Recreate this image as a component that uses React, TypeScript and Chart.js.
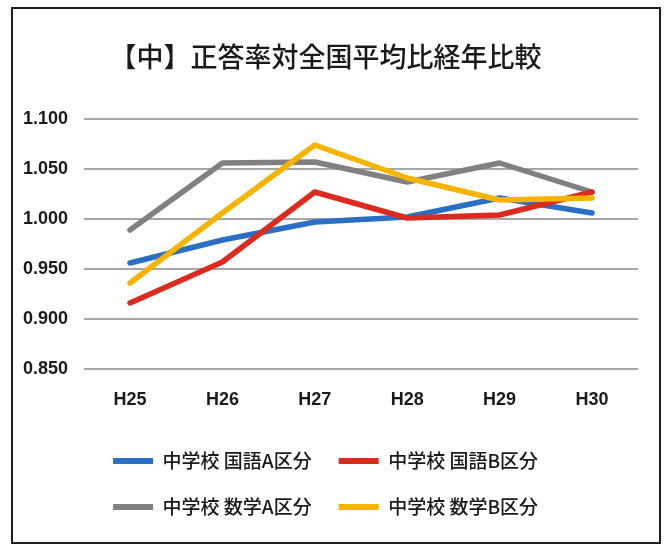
import React, { useEffect, useRef } from "react";
import { Chart, registerables } from "chart.js";

Chart.register(...registerables);

const TITLE = "【中】正答率対全国平均比経年比較";
const YEARS = ["H25", "H26", "H27", "H28", "H29", "H30"];
const SERIES_NAMES = ["中学校 国語A区分", "中学校 国語B区分", "中学校 数学A区分", "中学校 数学B区分"];
const KOKUGO_A = [0.956, 0.979, 0.997, 1.002, 1.021, 1.006];
const KOKUGO_B = [0.916, 0.957, 1.027, 1.001, 1.004, 1.027];
const SUGAKU_A = [0.989, 1.056, 1.057, 1.037, 1.056, 1.027];
const SUGAKU_B = [0.936, 1.006, 1.074, 1.041, 1.019, 1.021];
const Y_MIN = 0.85;
const Y_MAX = 1.1;
const Y_STEP = 0.05;

const COLORS = ["#2b6fc4", "#dc2a1e", "#808080", "#f6b400"];
const ORDERS = [3, 1, 2, 0];

const NUM_FONT = "'Liberation Sans', Arial, sans-serif";
const CJK_FONT = "'Noto Sans CJK JP', 'Noto Sans', sans-serif";

export default function App() {
  const ref = useRef<HTMLCanvasElement | null>(null);

  useEffect(() => {
    if (!ref.current) return;
    const values = [KOKUGO_A, KOKUGO_B, SUGAKU_A, SUGAKU_B];
    const chart = new Chart(ref.current, {
      type: "line",
      data: {
        labels: YEARS,
        datasets: values.map((v, i) => ({
          label: SERIES_NAMES[i],
          data: v,
          borderColor: COLORS[i],
          backgroundColor: COLORS[i],
          borderWidth: 5.5,
          pointRadius: 0,
          pointHoverRadius: 0,
          tension: 0,
          borderJoinStyle: "round" as const,
          borderCapStyle: "round" as const,
          order: ORDERS[i],
        })),
      },
      options: {
        animation: false,
        responsive: true,
        maintainAspectRatio: false,
        layout: { padding: { left: 0, right: 20.8, top: 0, bottom: 15.5 } },
        plugins: {
          title: {
            display: true,
            text: TITLE,
            color: "#1a1a1a",
            font: { family: CJK_FONT, size: 27, weight: 500 },
            padding: { top: 31.8, bottom: 45.8 },
          },
          legend: {
            position: "bottom",
            labels: {
              boxWidth: 40,
              boxHeight: 6,
              padding: 27,
              color: "#1a1a1a",
              font: { family: CJK_FONT, size: 19, weight: 500 },
              sort: (a: any, b: any) => a.datasetIndex - b.datasetIndex,
              generateLabels: (c: any) =>
                Chart.defaults.plugins.legend.labels
                  .generateLabels(c)
                  .map((l: any) => ({ ...l, lineWidth: 0, fillStyle: l.strokeStyle })),
            },
          },
          tooltip: { enabled: false },
        },
        scales: {
          x: {
            offset: true,
            grid: { display: false, drawTicks: false },
            border: { display: false },
            ticks: {
              color: "#1a1a1a",
              padding: 20,
              font: { family: NUM_FONT, size: 18, weight: "bold" },
            },
            afterFit: (s: any) => {
              s.height = 55.5;
            },
          },
          y: {
            min: Y_MIN,
            max: Y_MAX,
            grid: { color: "#a6a6a6", lineWidth: 2, drawTicks: false },
            border: { display: false },
            ticks: {
              stepSize: Y_STEP,
              color: "#1a1a1a",
              padding: 15.8,
              font: { family: NUM_FONT, size: 18, weight: "bold" },
              callback: (v: any) => Number(v).toFixed(3),
            },
            afterFit: (s: any) => {
              s.width = 70.8;
            },
          },
        },
      },
    });
    return () => chart.destroy();
  }, []);

  return (
    <div
      style={{
        position: "absolute",
        left: 11,
        top: 7,
        width: 650,
        height: 537,
        border: "2px solid #1e1e1e",
        boxSizing: "border-box",
        background: "#ffffff",
      }}
    >
      <div style={{ position: "relative", width: 646, height: 533 }}>
        <canvas ref={ref} />
      </div>
    </div>
  );
}
